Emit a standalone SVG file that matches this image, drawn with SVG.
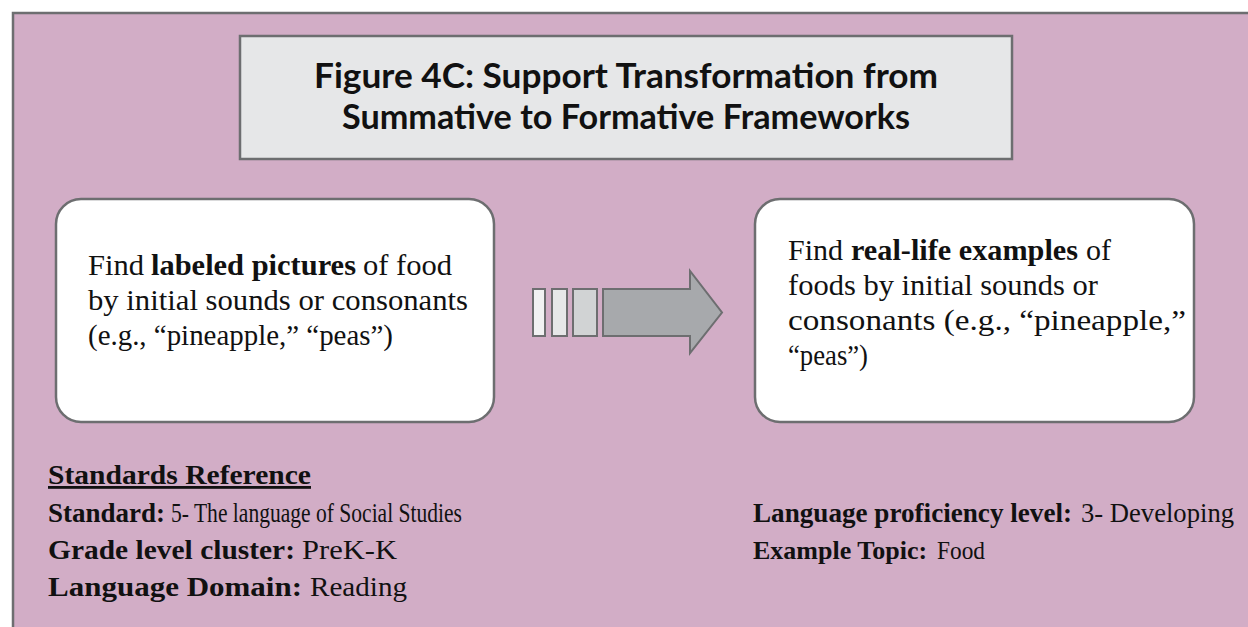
<svg xmlns="http://www.w3.org/2000/svg" width="1248" height="627" viewBox="0 0 1248 627">
<style>
.frame{fill:#d2adc6;}
.edge{stroke:#6d6e70;stroke-width:2.5;fill:none;}
.title-box{fill:#e6e7e8;stroke:#6d6e70;stroke-width:2.5;}
.box{fill:#ffffff;stroke:#6d6e70;stroke-width:2.5;}
.title{font-family:Lato,"Open Sans","Liberation Sans",sans-serif;font-weight:700;font-size:34px;fill:#111;}
.body{font-family:"Liberation Serif","DejaVu Serif",serif;font-size:30px;fill:#111;}
.ref{font-family:"Liberation Serif","DejaVu Serif",serif;font-size:28px;fill:#111;}
.sm{font-size:27px;}
.xs{font-size:26px;}
.b{font-weight:700;}
.ar{stroke:#6d6e70;stroke-width:2;}
</style>
<rect class="frame" x="13" y="13" width="1235" height="614"/>
<path class="edge" d="M13 627 V13 H1248"/>
<g id="title">
<rect class="title-box" x="240" y="36" width="772" height="123"/>
<text class="title" x="626" y="88" text-anchor="middle" textLength="624" lengthAdjust="spacingAndGlyphs">Figure 4C: Support Transformation from</text>
<text class="title" x="626" y="129" text-anchor="middle" textLength="568" lengthAdjust="spacingAndGlyphs">Summative to Formative Frameworks</text>
</g>
<g id="summative">
<rect class="box" x="56" y="199" width="438" height="223" rx="25" ry="25"/>
<text class="body" x="88" y="275" textLength="56" lengthAdjust="spacingAndGlyphs">Find</text>
<text class="body b" x="151" y="275" textLength="205" lengthAdjust="spacingAndGlyphs">labeled pictures</text>
<text class="body" x="363" y="275" textLength="89" lengthAdjust="spacingAndGlyphs">of food</text>
<text class="body" x="88" y="310" textLength="380" lengthAdjust="spacingAndGlyphs">by initial sounds or consonants</text>
<text class="body" x="88" y="345" textLength="305" lengthAdjust="spacingAndGlyphs">(e.g., “pineapple,” “peas”)</text>
</g>
<g id="formative">
<rect class="box" x="755" y="199" width="439" height="223" rx="25" ry="25"/>
<text class="body" x="788" y="260" textLength="55" lengthAdjust="spacingAndGlyphs">Find</text>
<text class="body b" x="851" y="260" textLength="227" lengthAdjust="spacingAndGlyphs">real-life examples</text>
<text class="body" x="1086" y="260" textLength="25" lengthAdjust="spacingAndGlyphs">of</text>
<text class="body" x="788" y="295" textLength="310" lengthAdjust="spacingAndGlyphs">foods by initial sounds or</text>
<text class="body" x="788" y="330" textLength="398" lengthAdjust="spacingAndGlyphs">consonants (e.g., “pineapple,”</text>
<text class="body" x="788" y="365" textLength="80" lengthAdjust="spacingAndGlyphs">“peas”)</text>
</g>
<g id="connectors">
<rect class="ar" x="533" y="289" width="12" height="47" fill="#f1f1f2"/>
<rect class="ar" x="552" y="289" width="15" height="47" fill="#e6e7e8"/>
<rect class="ar" x="573" y="289" width="24" height="47" fill="#d1d3d4"/>
<path class="ar" d="M603 289 H690 V271 L722 312.5 L690 353 V336 H603 Z" fill="#a7a9ac"/>
</g>
<g id="standards">
<text class="ref b" x="48" y="484" textLength="263" lengthAdjust="spacingAndGlyphs" text-decoration="underline">Standards Reference</text>
<text class="ref sm b" x="48" y="522">Standard:</text>
<text class="ref sm" x="171" y="522" textLength="291" lengthAdjust="spacingAndGlyphs">5- The language of Social Studies</text>
<text class="ref b" x="48" y="559" textLength="247" lengthAdjust="spacingAndGlyphs">Grade level cluster:</text>
<text class="ref" x="302" y="559" textLength="95" lengthAdjust="spacingAndGlyphs">PreK-K</text>
<text class="ref b" x="48" y="596" textLength="254" lengthAdjust="spacingAndGlyphs">Language Domain:</text>
<text class="ref" x="310" y="596" textLength="97" lengthAdjust="spacingAndGlyphs">Reading</text>
<text class="ref b" x="753" y="522" textLength="319" lengthAdjust="spacingAndGlyphs">Language proficiency level:</text>
<text class="ref" x="1081" y="522" textLength="153" lengthAdjust="spacingAndGlyphs">3- Developing</text>
<text class="ref xs b" x="753" y="559">Example Topic:</text>
<text class="ref xs" x="937" y="559" textLength="48" lengthAdjust="spacingAndGlyphs">Food</text>
</g>
</svg>
